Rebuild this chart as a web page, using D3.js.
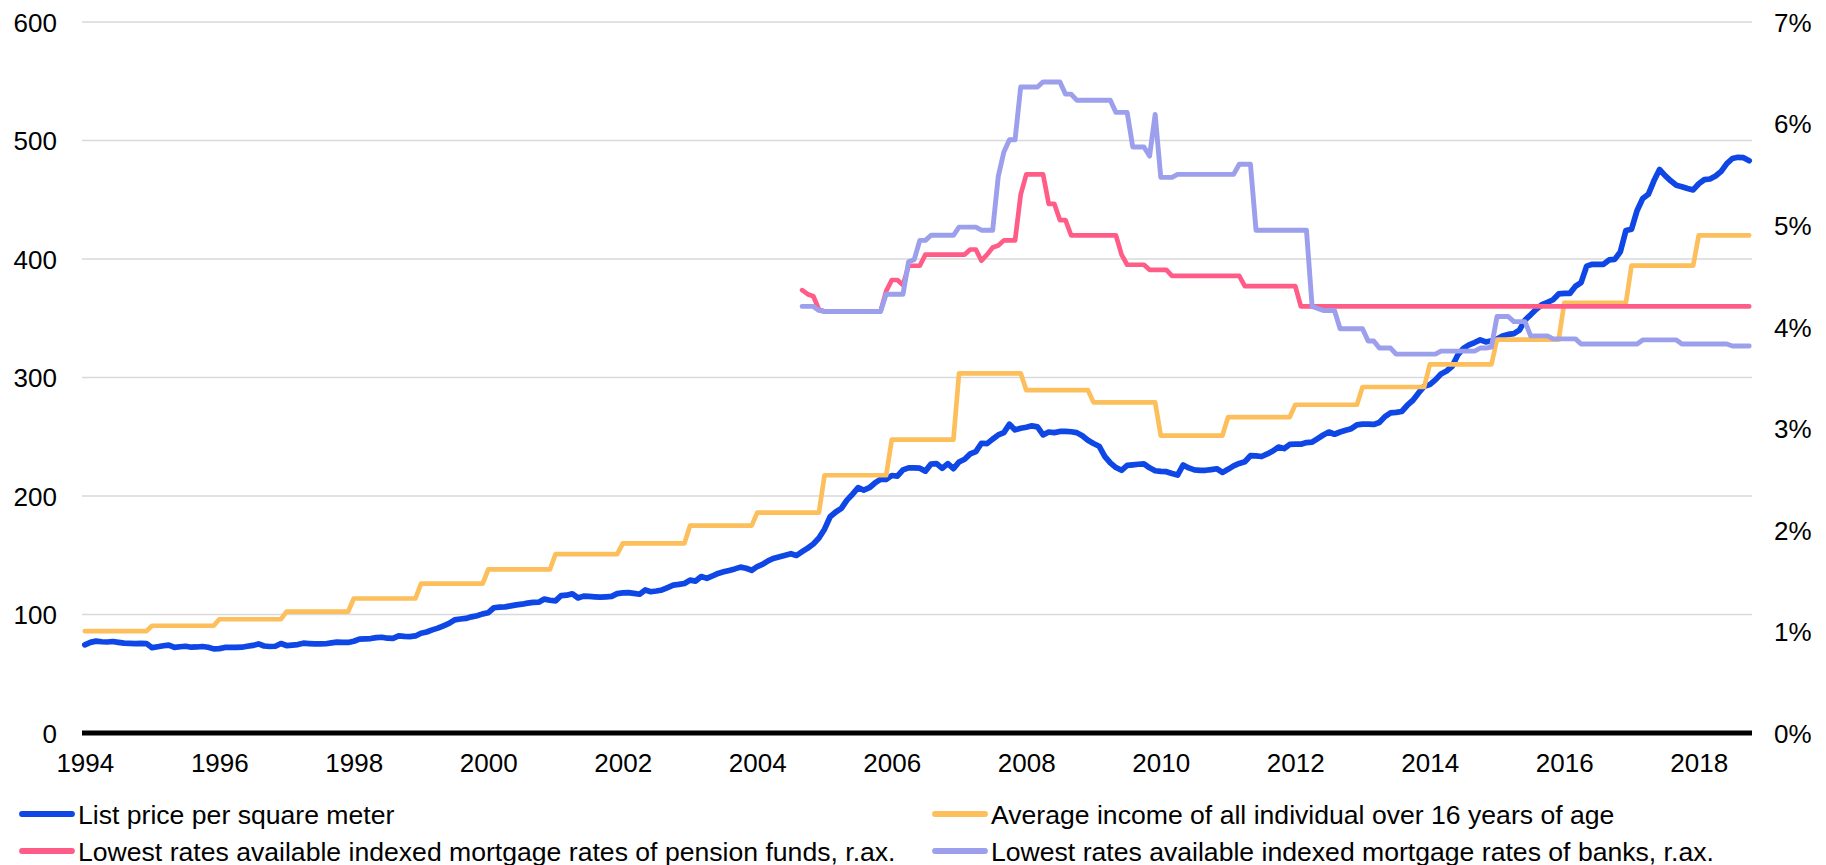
<!DOCTYPE html>
<html>
<head>
<meta charset="utf-8">
<script src="https://cdn.jsdelivr.net/npm/d3@7"></script>
<style>
  html, body { margin: 0; padding: 0; background: #ffffff; }
  svg { display: block; font-family: "Liberation Sans", Arial, sans-serif; }
</style>
</head>
<body>
<svg id="chart" width="1826" height="865"></svg>
<script>
// Monthly series start in January 1994
const firstYear = 1994;

// X-axis labels (January of every second year)
const yearLabels = ["1994", "1996", "1998", "2000", "2002", "2004", "2006",
                    "2008", "2010", "2012", "2014", "2016", "2018"];

// Left axis (price / income) and right axis (rates, %) ticks
const leftTicks = [0, 100, 200, 300, 400, 500, 600];
const rightTicks = [0, 1, 2, 3, 4, 5, 6, 7];

// List price per square meter, monthly Jan 1994 - Oct 2018
const listPrice = [
  74.4, 76.5, 77.5, 77, 76.8, 77.2, 76.5, 75.8, 75.6, 75.5, 75.6, 75.5,
  72, 72.8, 73.6, 74.1, 72.2, 72.8, 73.2, 72.4, 72.6, 73, 72.4, 71,
  71.2, 72.2, 72.3, 72.2, 72.4, 73.2, 73.9, 75.2, 73.4, 73, 73.2, 75.5,
  73.8, 74.2, 74.6, 75.8, 75.5, 75.2, 75.2, 75.3, 76, 76.7, 76.5, 76.4,
  77.4, 79.2, 79.4, 79.7, 80.5, 80.8, 80, 79.9, 82, 81.5, 81.4, 81.9,
  84.2, 85.2, 87, 88.5, 90.5, 92.5, 95.5, 96.2, 96.7, 98, 99, 100.5,
  101.5, 105.7, 106.2, 106.4, 107.3, 108.1, 108.7, 109.6, 110.2, 110.4, 113, 112,
  111.5, 116, 116.3, 117.5, 114, 115.5, 115.3, 114.9, 114.6, 114.9, 115.3, 117.6,
  118.2, 118.5, 117.8, 117.1, 120.7, 119.2, 119.8, 120.7, 122.7, 124.8, 125.4, 126.2,
  129, 128.2, 132, 130.5, 132.5, 134.7, 136, 137.2, 138.5, 140, 139, 137.3,
  140.5, 142.5, 145.5, 147.5, 148.8, 150, 151.3, 149.8, 153, 156, 159.5, 164.5,
  172, 182.5, 186.5, 189.5, 196.5, 201.5, 207, 205, 207, 211, 214, 214,
  217.3, 216.8, 222, 223.7, 223.7, 223.5, 221, 227, 227.3, 223.3, 227.3, 223.1,
  228.7, 231, 235.5, 237.5, 244.5, 244.2, 248, 251.5, 253.5, 260.6, 255.8, 257.2,
  258, 259.2, 258.3, 251.6, 254, 253.5, 254.5, 254.6, 254.2, 253.5, 250.8, 247,
  244.3, 242, 233.5, 228, 224, 221.7, 225.8, 226.3, 226.8, 227.1, 223.8, 221.3,
  220.8, 220.5, 219, 217.7, 226.2, 223.7, 222, 221.7, 221.7, 222.3, 223, 219.9,
  222.5, 225.4, 227.5, 228.9, 234, 233.8, 233.3, 235.5, 238, 241.3, 240, 243.5,
  243.7, 243.7, 245.1, 245.4, 248.5, 251.5, 254, 252.1, 254, 255.5, 256.8, 260,
  260.6, 260.6, 260.4, 262, 267, 270.2, 270.6, 271.3, 276.6, 280.8, 287, 292.5,
  294, 298, 303, 305.5, 309.5, 319, 324.5, 327.5, 329.5, 331.8, 330, 331,
  332.4, 335, 336.4, 337, 340, 348.5, 352.9, 357.6, 361.5, 363.4, 365.6, 370.5,
  371, 371, 377, 380, 394, 395.5, 395.5, 395.5, 399.2, 399.7, 406, 424,
  425.1, 441, 451, 454.6, 466, 475.5, 470.4, 466, 462.2, 461, 459.5, 458.3,
  463.5, 467, 467.5, 470, 474, 480.5, 484.8, 485.8, 485.5, 483
];

// Average income of all individuals over 16, one value per year 1994-2018
const incomeByYear = [
  86, 90.5, 96, 102.5, 113.5, 126, 138, 151, 160, 175, 186, 217.5, 247.5,
  303.5, 289.3, 279, 251, 266.5, 277, 292, 311, 332, 363, 394.4, 420
];

// Mortgage rate series (%), monthly from September 2004
const ratesStartMonth = 128;

const pensionFundRates = [
  4.36, 4.32, 4.30, 4.17,
  4.15, 4.15, 4.15, 4.15, 4.15, 4.15, 4.15, 4.15, 4.15, 4.15, 4.15,
  4.35, 4.46, 4.46, 4.41, 4.60, 4.60, 4.60,
  4.71, 4.71, 4.71, 4.71, 4.71, 4.71, 4.71, 4.71,
  4.76, 4.76, 4.65, 4.71, 4.78, 4.80,
  4.85, 4.85, 4.85,
  5.30,
  5.50, 5.50, 5.50, 5.50,
  5.21, 5.21,
  5.05, 5.05,
  4.90, 4.90, 4.90, 4.90, 4.90, 4.90, 4.90, 4.90, 4.90,
  4.71,
  4.61, 4.61, 4.61, 4.61,
  4.56, 4.56, 4.56, 4.56,
  4.50, 4.50, 4.50, 4.50, 4.50, 4.50, 4.50, 4.50, 4.50, 4.50, 4.50, 4.50, 4.50,
  4.40, 4.40, 4.40, 4.40, 4.40, 4.40, 4.40, 4.40, 4.40, 4.40,
  4.20, 4.20, 4.20, 4.20, 4.20, 4.20, 4.20, 4.20, 4.20, 4.20, 4.20, 4.20,
  4.20, 4.20, 4.20, 4.20, 4.20, 4.20, 4.20, 4.20, 4.20, 4.20, 4.20, 4.20,
  4.20, 4.20, 4.20, 4.20, 4.20, 4.20, 4.20, 4.20, 4.20, 4.20, 4.20, 4.20,
  4.20, 4.20, 4.20, 4.20, 4.20, 4.20, 4.20, 4.20, 4.20, 4.20, 4.20, 4.20,
  4.20, 4.20, 4.20, 4.20, 4.20, 4.20, 4.20, 4.20, 4.20, 4.20, 4.20, 4.20,
  4.20, 4.20, 4.20, 4.20, 4.20, 4.20, 4.20, 4.20, 4.20, 4.20, 4.20, 4.20,
  4.20, 4.20, 4.20, 4.20, 4.20, 4.20, 4.20, 4.20, 4.20
];

const bankRates = [
  4.20, 4.20, 4.20, 4.16,
  4.15, 4.15, 4.15, 4.15, 4.15, 4.15, 4.15, 4.15, 4.15, 4.15, 4.15,
  4.32, 4.32, 4.32, 4.32,
  4.64, 4.66, 4.85, 4.85,
  4.90, 4.90, 4.90, 4.90, 4.90,
  4.98, 4.98, 4.98, 4.98,
  4.95, 4.95, 4.95,
  5.48, 5.72, 5.84, 5.84,
  6.36, 6.36, 6.36, 6.36,
  6.41, 6.41, 6.41, 6.41,
  6.29, 6.29,
  6.23, 6.23, 6.23, 6.23, 6.23, 6.23, 6.23,
  6.11, 6.11, 6.11,
  5.77, 5.77, 5.77,
  5.68, 6.09,
  5.47, 5.47, 5.47,
  5.50, 5.50, 5.50, 5.50, 5.50, 5.50, 5.50, 5.50, 5.50, 5.50, 5.50,
  5.60, 5.60, 5.60,
  4.95, 4.95, 4.95, 4.95, 4.95, 4.95, 4.95, 4.95, 4.95, 4.95,
  4.20, 4.18, 4.16, 4.16, 4.16,
  3.98, 3.98, 3.98, 3.98, 3.98,
  3.86, 3.86,
  3.79, 3.79, 3.79,
  3.73, 3.73, 3.73, 3.73, 3.73, 3.73, 3.73, 3.73,
  3.76, 3.76, 3.76, 3.76, 3.76, 3.76, 3.76,
  3.79, 3.79, 3.80,
  4.10, 4.10, 4.10,
  4.05, 4.05, 4.05,
  3.91, 3.91, 3.91, 3.91,
  3.88, 3.88, 3.88, 3.88, 3.88,
  3.83, 3.83, 3.83, 3.83, 3.83, 3.83, 3.83, 3.83, 3.83, 3.83, 3.83,
  3.87, 3.87, 3.87, 3.87, 3.87, 3.87, 3.87,
  3.83, 3.83, 3.83, 3.83, 3.83, 3.83, 3.83, 3.83, 3.83,
  3.81, 3.81, 3.81, 3.81
];

const seriesNames = [
  "List price per square meter",
  "Average income of all individual over 16 years of age",
  "Lowest rates available indexed mortgage rates of pension funds, r.ax.",
  "Lowest rates available indexed mortgage rates of banks, r.ax."
];
const seriesColors = ["#0f46e6", "#fcbf5c", "#ff5c88", "#9c9fec"];
const seriesWidths = [5.7, 4.7, 4.7, 4.9];

// ---- layout ----
const svg = d3.select("#chart");
const plot = { left: 82, right: 1752, top: 22, bottom: 733 };
const fontSize = 26;
const legendFontSize = 26.6;

const nMonths = listPrice.length;
const x = d3.scaleLinear()
  .domain([-0.5, nMonths - 0.5])
  .range([plot.left, plot.right]);
const yLeft = d3.scaleLinear().domain([0, 600]).range([plot.bottom, plot.top]);
const yRight = d3.scaleLinear().domain([0, 7]).range([plot.bottom, plot.top]);

// gridlines
svg.append("g")
  .selectAll("line")
  .data(leftTicks.filter(d => d > 0))
  .join("line")
  .attr("x1", plot.left).attr("x2", plot.right)
  .attr("y1", d => yLeft(d)).attr("y2", d => yLeft(d))
  .attr("stroke", "#d9d9d9").attr("stroke-width", 1.4);

// left axis
const leftAxis = svg.append("g")
  .attr("transform", `translate(${plot.left},0)`)
  .call(d3.axisLeft(yLeft).tickValues(leftTicks).tickSize(0).tickPadding(25).tickFormat(d3.format("d")));
leftAxis.select(".domain").remove();

// right axis
const rightAxis = svg.append("g")
  .attr("transform", `translate(${plot.right},0)`)
  .call(d3.axisRight(yRight).tickValues(rightTicks).tickSize(0).tickPadding(22).tickFormat(d => d + "%"));
rightAxis.select(".domain").remove();

// bottom axis
const bottomAxis = svg.append("g")
  .attr("transform", `translate(0,${plot.bottom})`)
  .call(d3.axisBottom(x)
    .tickValues(yearLabels.map(y => (+y - firstYear) * 12))
    .tickSize(0).tickPadding(21)
    .tickFormat(m => yearLabels[m / 24]));
bottomAxis.select(".domain").remove();

svg.selectAll(".tick text")
  .attr("font-family", '"Liberation Sans", Arial, sans-serif')
  .attr("font-size", fontSize)
  .attr("fill", "#000");
leftAxis.selectAll(".tick text").attr("dy", "0.36em");
rightAxis.selectAll(".tick text").attr("dy", "0.36em");

// zero line
svg.append("line")
  .attr("x1", plot.left).attr("x2", plot.right)
  .attr("y1", yLeft(0)).attr("y2", yLeft(0))
  .attr("stroke", "#000").attr("stroke-width", 5);

// series
const priceData = listPrice.map((v, m) => ({ m, v }));
const incomeData = d3.range(nMonths).map(m => ({ m, v: incomeByYear[Math.floor(m / 12)] }));
const pensionData = pensionFundRates.map((v, i) => ({ m: ratesStartMonth + i, v }));
const bankData = bankRates.map((v, i) => ({ m: ratesStartMonth + i, v }));

const lineLeft = d3.line().x(d => x(d.m)).y(d => yLeft(d.v));
const lineRight = d3.line().x(d => x(d.m)).y(d => yRight(d.v));

const seriesPaths = [
  [priceData, lineLeft],
  [incomeData, lineLeft],
  [pensionData, lineRight],
  [bankData, lineRight]
];

svg.append("g")
  .selectAll("path")
  .data(seriesPaths)
  .join("path")
  .attr("d", d => d[1](d[0]))
  .attr("fill", "none")
  .attr("stroke", (d, i) => seriesColors[i])
  .attr("stroke-width", (d, i) => seriesWidths[i])
  .attr("stroke-linejoin", "round")
  .attr("stroke-linecap", "round");

// legend: two columns, two rows
const legendCols = [{ x: 22, tx: 78 }, { x: 935, tx: 991 }];
const legendRows = [814, 851];
const legendItems = seriesNames.map((name, i) => ({
  name, color: seriesColors[i],
  col: legendCols[i % 2], row: legendRows[Math.floor(i / 2)]
}));

const legend = svg.append("g");
legend.selectAll("line")
  .data(legendItems)
  .join("line")
  .attr("x1", d => d.col.x).attr("x2", d => d.col.x + 50)
  .attr("y1", d => d.row).attr("y2", d => d.row)
  .attr("stroke", d => d.color)
  .attr("stroke-width", 5.8)
  .attr("stroke-linecap", "round");
legend.selectAll("text")
  .data(legendItems)
  .join("text")
  .attr("x", d => d.col.tx)
  .attr("y", d => d.row + 9.5)
  .attr("font-size", legendFontSize)
  .attr("fill", "#000")
  .text(d => d.name);
</script>
</body>
</html>
